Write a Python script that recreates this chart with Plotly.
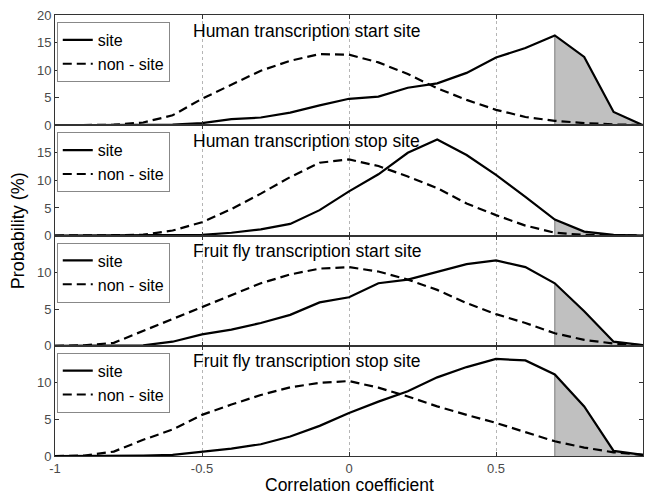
import plotly.graph_objects as go

# Correlation coefficient grid (steps of 0.1)
corr = [round(-1 + 0.1 * i, 1) for i in range(21)]

# Probability (%) of each correlation value, site vs. non-site
human_start_site = [0, 0, 0, 0.05, 0.1, 0.4, 1.1, 1.4, 2.3, 3.6, 4.8, 5.2, 6.8, 7.6, 9.5, 12.3, 14.0, 16.3, 12.4, 2.4, 0]
human_start_non = [0, 0, 0.1, 0.5, 1.8, 4.8, 7.3, 9.9, 11.7, 12.9, 12.8, 11.4, 9.3, 6.7, 4.6, 2.8, 1.5, 0.8, 0.4, 0.15, 0.05]

human_stop_site = [0, 0, 0, 0, 0.02, 0.1, 0.5, 1.1, 2.1, 4.6, 8.0, 11.1, 15.0, 17.4, 14.6, 11.0, 7.0, 2.9, 0.7, 0.1, 0]
human_stop_non = [0, 0, 0.05, 0.15, 0.9, 2.4, 4.8, 7.6, 10.6, 13.2, 13.8, 12.6, 10.7, 8.6, 5.8, 3.7, 1.8, 0.5, 0.1, 0.05, 0]

fly_start_site = [0, 0, 0, 0.05, 0.55, 1.55, 2.2, 3.1, 4.2, 5.9, 6.6, 8.5, 9.0, 10.1, 11.1, 11.6, 10.7, 8.5, 4.7, 0.55, 0.1]
fly_start_non = [0, 0.05, 0.4, 2.0, 3.7, 5.2, 6.9, 8.5, 9.7, 10.5, 10.7, 10.1, 9.0, 7.6, 5.8, 4.3, 3.1, 1.7, 0.8, 0.3, 0.05]

fly_stop_site = [0, 0, 0, 0.05, 0.15, 0.6, 1.0, 1.6, 2.65, 4.1, 5.85, 7.4, 8.8, 10.7, 12.1, 13.2, 13.0, 11.1, 6.75, 0.7, 0.15]
fly_stop_non = [0, 0.05, 0.6, 2.2, 3.6, 5.6, 7.0, 8.3, 9.35, 9.95, 10.2, 9.3, 8.1, 6.75, 5.6, 4.5, 3.25, 2.0, 1.15, 0.5, 0.15]

panel_titles = [
    "Human transcription start site",
    "Human transcription stop site",
    "Fruit fly transcription start site",
    "Fruit fly transcription stop site",
]
panel_ymax = [20, 20, 15, 15]
panel_yticks = [[0, 5, 10, 15, 20], [0, 5, 10, 15], [0, 5, 10], [0, 5, 10]]
x_ticks = [-1, -0.5, 0, 0.5, 1]
x_ticklabels = ["-1", "-0.5", "0", "0.5", "1"]
threshold = 0.7

panels = [
    (human_start_site, human_start_non),
    (human_stop_site, human_stop_non),
    (fly_start_site, fly_start_non),
    (fly_stop_site, fly_stop_non),
]

FONT = "Liberation Sans, Arial, Helvetica, sans-serif"
AXIS_COLOR = "#333333"
TICK_FONT = dict(size=13, color="#4a4a4a", family=FONT)

fig = go.Figure()
n = len(panels)
for i, (site, non) in enumerate(panels):
    k = i + 1
    xa = "x" if k == 1 else f"x{k}"
    ya = "y" if k == 1 else f"y{k}"
    leg = "legend" if k == 1 else f"legend{k}"

    # shaded tail of the site distribution beyond the threshold
    tail_x = [c for c in corr if c >= threshold - 1e-9]
    tail_y = [v for c, v in zip(corr, site) if c >= threshold - 1e-9]
    fig.add_trace(go.Scatter(x=tail_x, y=tail_y, mode="lines", fill="tozeroy",
                             fillcolor="#c0c0c0", line=dict(width=0),
                             xaxis=xa, yaxis=ya, showlegend=False, hoverinfo="skip"))
    fig.add_trace(go.Scatter(x=[tail_x[0], tail_x[0]], y=[0, tail_y[0]], mode="lines",
                             line=dict(color="#7a7a7a", width=1),
                             xaxis=xa, yaxis=ya, showlegend=False, hoverinfo="skip"))

    fig.add_trace(go.Scatter(x=corr, y=site, mode="lines", name="site",
                             line=dict(color="black", width=2.2),
                             xaxis=xa, yaxis=ya, legend=leg))
    fig.add_trace(go.Scatter(x=corr, y=non, mode="lines", name="non - site",
                             line=dict(color="black", width=2.2, dash="9px,5px"),
                             xaxis=xa, yaxis=ya, legend=leg))

    # vertically stacked panels, touching each other
    top = 1 - i / n
    bottom = 1 - (i + 1) / n
    xkey = "xaxis" if k == 1 else f"xaxis{k}"
    ykey = "yaxis" if k == 1 else f"yaxis{k}"
    fig.layout[xkey] = dict(
        domain=[0, 1], anchor=ya, range=[-1, 1],
        tickvals=x_ticks, ticktext=x_ticklabels,
        showticklabels=(k == n),
        ticks="inside", ticklen=4, tickcolor=AXIS_COLOR,
        showline=True, linecolor=AXIS_COLOR, linewidth=1, mirror="ticks",
        showgrid=True, gridcolor="#b5b5b5", griddash="dot", gridwidth=1,
        zeroline=False, tickfont=TICK_FONT,
    )
    if k != 1:
        fig.layout[xkey].matches = "x"
    fig.layout[ykey] = dict(
        domain=[bottom, top], anchor=xa, range=[0, panel_ymax[i]],
        tickvals=panel_yticks[i],
        ticks="inside", ticklen=4, tickcolor=AXIS_COLOR,
        showline=True, linecolor=AXIS_COLOR, linewidth=1, mirror="ticks",
        showgrid=False, zeroline=False, tickfont=TICK_FONT,
    )
    fig.layout[leg] = dict(
        x=0.003, y=top - 0.016, xref="paper", yref="paper",
        xanchor="left", yanchor="top",
        bordercolor="#888888", borderwidth=1, bgcolor="white",
        font=dict(size=16, family=FONT, color="black"),
        tracegroupgap=0, itemwidth=30,
    )
    fig.add_annotation(text=panel_titles[i], xref="paper", yref="paper",
                       x=0.232, y=top - 0.008, xanchor="left", yanchor="top",
                       showarrow=False, font=dict(size=17.5, family=FONT, color="black"))

fig.add_annotation(text="Correlation coefficient", xref="paper", yref="paper",
                   x=0.5, y=-0.066, xanchor="center", yanchor="middle", showarrow=False,
                   font=dict(size=17.5, family=FONT, color="black"))
fig.add_annotation(text="Probability (%)", xref="paper", yref="paper",
                   x=-0.0625, y=0.51, xanchor="center", yanchor="middle", textangle=-90,
                   showarrow=False, font=dict(size=18, family=FONT, color="black"))

fig.update_layout(
    width=646, height=495,
    margin=dict(l=55, r=3, t=15, b=39),
    paper_bgcolor="white", plot_bgcolor="white",
    font=dict(family=FONT),
)

fig.write_html("out.html")
